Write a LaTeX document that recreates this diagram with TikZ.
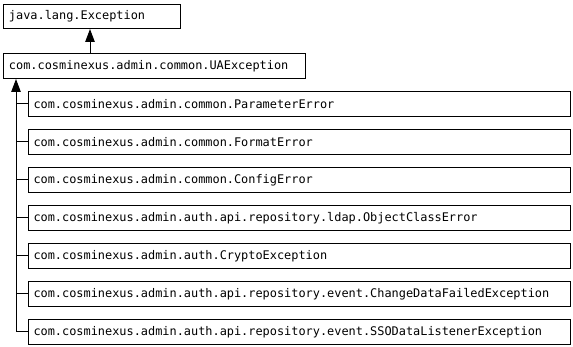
\documentclass[tikz,border=0pt]{standalone}
\usepackage{fontspec}
\setmonofont{DejaVu Sans Mono}
\usepackage{tikz}
\usetikzlibrary{arrows.meta, positioning}

\begin{document}
\begin{tikzpicture}[x=1pt, y=-1pt,
    clsbox/.style={draw=black, line width=1pt, anchor=north west,
      minimum height=25pt, inner xsep=5pt, inner ysep=0pt,
      font=\ttfamily\fontsize{11.9}{14}\selectfont, align=left},
    inherit/.style={line width=1pt, -{Triangle[width=9.5pt, length=13pt]}},
    branch/.style={line width=1pt}]
  \useasboundingbox (0,0) rectangle (573,347);

  % Root and base exception
  \node[clsbox, minimum width=177pt, text width=166pt, minimum height=24pt] (jexc) at (3,4) {java.lang.Exception};
  \node[clsbox, minimum width=302pt, text width=291pt] (uaexc) at (3,53) {com.cosminexus.admin.common.UAException};

  % Subclasses
  \node[clsbox, minimum width=542pt, text width=532pt] (param) at (28,91) {com.cosminexus.admin.common.ParameterError};
  \node[clsbox, minimum width=542pt, text width=532pt] (format) at (28,129) {com.cosminexus.admin.common.FormatError};
  \node[clsbox, minimum width=542pt, text width=532pt] (config) at (28,167) {com.cosminexus.admin.common.ConfigError};
  \node[clsbox, minimum width=542pt, text width=532pt] (ldap) at (28,205) {com.cosminexus.admin.auth.api.repository.ldap.ObjectClassError};
  \node[clsbox, minimum width=542pt, text width=532pt] (crypto) at (28,243) {com.cosminexus.admin.auth.CryptoException};
  \node[clsbox, minimum width=542pt, text width=532pt] (change) at (28,281) {com.cosminexus.admin.auth.api.repository.event.ChangeDataFailedException};
  \node[clsbox, minimum width=542pt, text width=532pt] (ssolst) at (28,319) {com.cosminexus.admin.auth.api.repository.event.SSODataListenerException};

  % Inheritance arrows
  \coordinate (stem) at (90,0);
  \coordinate (trunk) at (16,0);
  \draw[inherit] (uaexc.north -| stem) -- (jexc.south -| stem);
  \draw[inherit] (ssolst.west -| trunk) -- (uaexc.south -| trunk);
  \draw[branch] (ssolst.west -| trunk) -- (ssolst.west);
  \foreach \sub in {param, format, config, ldap, crypto, change}
    \draw[branch] (\sub.west -| trunk) -- (\sub.west);

\end{tikzpicture}
\end{document}
